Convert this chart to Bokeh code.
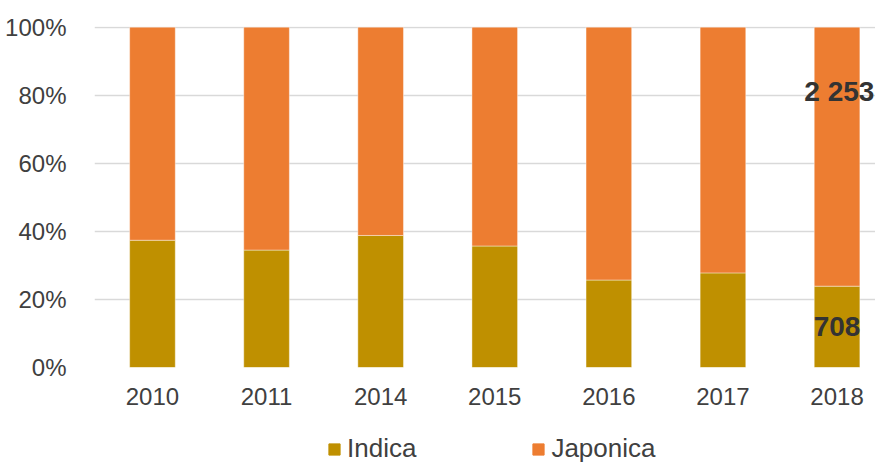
from bokeh.plotting import figure
from bokeh.layouts import column
from bokeh.models import ColumnDataSource, Range1d, Legend, LegendItem, NumeralTickFormatter, FixedTicker, LabelSet
from bokeh.core.properties import value
from bokeh.embed import file_html
from bokeh.resources import INLINE

years = ["2010", "2011", "2014", "2015", "2016", "2017", "2018"]
indica = [0.374, 0.345, 0.388, 0.357, 0.257, 0.278, 0.239]
japonica = [round(1 - v, 3) for v in indica]
series = ["Indica", "Japonica"]
colors = ["#BF9000", "#ED7D31"]
label_year = "2018"
label_indica = "708"
label_japonica = "2 253"

x = list(range(len(years)))
src = ColumnDataSource(dict(x=x, Indica=indica, Japonica=japonica))

W = 875
p = figure(width=W, height=415, output_backend="svg", toolbar_location=None,
           x_range=Range1d(-0.508, 6.337), y_range=Range1d(0, 1.002),
           min_border_left=94, min_border_right=0, min_border_top=26, min_border_bottom=48)
p.outline_line_color = None

r = p.vbar_stack(series, x="x", width=0.40, source=src,
                 color=colors, line_color="white", line_width=0.7, line_alpha=0.6)

font = "Liberation Sans"
txt = "#404040"
ticks = [0, 0.2, 0.4, 0.6, 0.8, 1.0]
p.yaxis.ticker = FixedTicker(ticks=ticks)
p.yaxis.formatter = NumeralTickFormatter(format="0%")
p.xaxis.ticker = FixedTicker(ticks=x)
p.xaxis.major_label_overrides = {i: y for i, y in enumerate(years)}
for ax in (p.xaxis, p.yaxis):
    ax.axis_line_color = None
    ax.major_tick_line_color = None
    ax.minor_tick_line_color = None
    ax.major_label_text_font = font
    ax.major_label_text_font_size = "24px"
    ax.major_label_text_color = txt
p.yaxis.major_label_standoff = 22
p.xaxis.major_label_standoff = 14
p.xgrid.grid_line_color = None
p.ygrid.grid_line_color = "#D9D9D9"
p.ygrid.grid_line_width = 1.3
p.ygrid.ticker = FixedTicker(ticks=ticks)

i18 = years.index(label_year)
lsrc = ColumnDataSource(dict(x=[i18, i18 + 0.02],
                             y=[indica[i18] / 2, 0.81],
                             t=[label_indica, label_japonica]))
p.add_layout(LabelSet(x="x", y="y", text="t", source=lsrc, text_align="center",
                      text_baseline="middle", text_font=value(font), text_font_style="bold",
                      text_font_size="28px", text_color="#333333"))

# legend strip (its frame is aligned with the chart frame by the column layout)
lg = figure(width=W, height=49, output_backend="svg", toolbar_location=None,
            x_range=Range1d(0, 1), y_range=Range1d(2, 3),
            min_border_left=0, min_border_right=0, min_border_top=0, min_border_bottom=0)
lg.outline_line_color = None
lg.axis.visible = False
lg.grid.visible = False
items = []
for name, c in zip(series, colors):
    rr = lg.vbar(x="x", top=name, width=0.1, source=src, color=c)
    items.append(LegendItem(label=name, renderers=[rr]))

legend = Legend(items=items, orientation="horizontal", location=(233, 0),
                glyph_width=14, glyph_height=14, label_standoff=6, spacing=115,
                label_text_font=font, label_text_font_size="26px", label_text_color=txt,
                border_line_color=None, background_fill_alpha=0, padding=0, margin=0,
                label_height=14)
lg.add_layout(legend, "center")

open("out.html", "w").write(file_html(column(p, lg, spacing=0), INLINE))
